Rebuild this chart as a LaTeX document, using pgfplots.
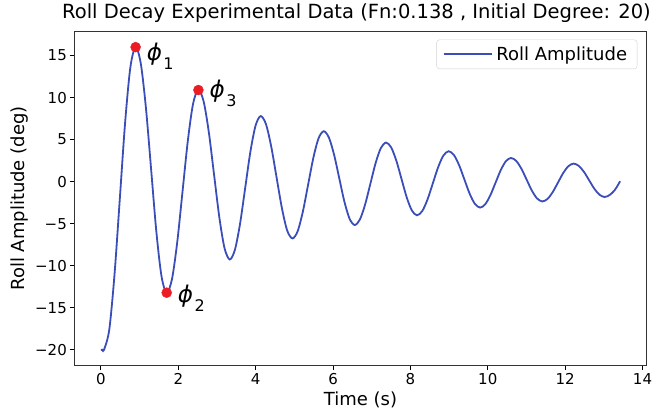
\documentclass[border=0pt]{standalone}
\usepackage{fontspec}
\setmainfont{DejaVu Sans}
\usepackage{pgfplots}
\pgfplotsset{compat=1.18}
\definecolor{rollblue}{RGB}{58,77,184}
\definecolor{mkred}{RGB}{236,28,36}
\newcommand{\philab}[1]{{\itshape ϕ}\kern1.5bp\raisebox{-9bp}{\fontsize{16bp}{18bp}\selectfont #1}}
\begin{document}
\begin{tikzpicture}
\useasboundingbox (-75bp,-49bp) rectangle (590bp,365bp);
\begin{axis}[
  scale only axis, clip=false,
  width=571bp, height=333bp,
  xmin=-0.67, xmax=14.09, ymin=-21.8, ymax=17.8,
  xtick={0,2,4,6,8,10,12,14},
  ytick={-20,-15,-10,-5,0,5,10,15},
  yticklabels={−20,−15,−10,−5,0,5,10,15},
  xticklabels={0,2,4,6,8,10,12,14},
  tick align=outside, tick pos=left,
  major tick length=5bp,
  every tick/.style={black, line width=0.9bp},
  axis line style={black!80, line width=1bp},
  ticklabel style={font=\fontsize{15bp}{18bp}\selectfont, inner sep=0pt},
  xticklabel style={anchor=north, yshift=-3.5bp},
  yticklabel style={anchor=east, xshift=-3bp},
  title={Roll Decay Experimental Data (Fn:0.138 , Initial Degree: 20)},
  title style={font=\fontsize{19.5bp}{23bp}\selectfont, at={(0.5,1)}, anchor=base, yshift=7.5bp, xshift=-4bp, inner sep=0pt},
  xlabel={Time (s)},
  xlabel style={font=\fontsize{18bp}{21bp}\selectfont, at={(0.5,0)}, anchor=base, yshift=-40bp, inner sep=0pt},
  legend style={at={(0.9848,0.9774)}, anchor=north east, draw=black!18, rounded corners=3bp,
    font=\fontsize{18bp}{21bp}\selectfont, inner xsep=6bp, inner ysep=3bp,
    nodes={inner xsep=4bp, inner ysep=4bp}},
  legend cell align=left,
  legend image code/.code={\draw[#1] (0bp,0bp) -- (39bp,0bp); \path (0bp,0bp) -- (48bp,0bp);},
]
\addplot[rollblue, line width=1.8bp, smooth] coordinates {
(0,-20) (0.04,-20) (0.08,-20)
(0.216,-17.59) (0.352,-11.0) (0.489,-2.0) (0.625,7.0) (0.761,13.59)
(0.897,16.0) (1.031,14.04) (1.165,8.7) (1.299,1.4) (1.432,-5.9) (1.566,-11.24)
(1.70,-13.2) (1.837,-11.59) (1.973,-7.18) (2.110,-1.15) (2.247,4.88) (2.383,9.29)
(2.52,10.9) (2.655,9.55) (2.790,5.86) (2.925,0.825) (3.060,-4.21) (3.195,-7.90)
(3.33,-9.25) (3.463,-8.11) (3.597,-4.99) (3.730,-0.725) (3.863,3.54) (3.997,6.66)
(4.13,7.8) (4.267,6.83) (4.403,4.16) (4.540,0.525) (4.677,-3.11) (4.813,-5.78)
(4.95,-6.75) (5.085,-5.90) (5.220,-3.56) (5.355,-0.375) (5.490,2.81) (5.625,5.15)
(5.76,6.0) (5.893,5.25) (6.027,3.21) (6.160,0.425) (6.293,-2.36) (6.427,-4.40)
(6.56,-5.15) (6.695,-4.49) (6.830,-2.70) (6.965,-0.25) (7.100,2.20) (7.235,3.99)
(7.37,4.65) (7.503,4.07) (7.637,2.49) (7.770,0.325) (7.903,-1.84) (8.037,-3.42)
(8.17,-4.0) (8.307,-3.49) (8.443,-2.10) (8.580,-0.19) (8.717,1.72) (8.853,3.11)
(8.99,3.62) (9.125,3.17) (9.260,1.95) (9.395,0.27) (9.530,-1.41) (9.665,-2.63)
(9.80,-3.08) (9.933,-2.69) (10.067,-1.61) (10.200,-0.13) (10.333,1.35) (10.467,2.43)
(10.60,2.82) (10.735,2.47) (10.870,1.53) (11.005,0.235) (11.140,-1.06) (11.275,-2.00)
(11.41,-2.35) (11.545,-2.05) (11.680,-1.23) (11.815,-0.1) (11.950,1.03) (12.085,1.85)
(12.22,2.15) (12.353,1.88) (12.487,1.16) (12.620,0.165) (12.753,-0.83) (12.887,-1.55)
(13.02,-1.82) (13.155,-1.57) (13.29,-0.95) (13.42,0.05)
};
\addlegendentry{Roll Amplitude}
\addplot[only marks, mark=*, mark size=5bp, mkred, mark options={draw=mkred, fill=mkred}, forget plot] coordinates {
(0.897,16.0) (1.70,-13.2) (2.52,10.9)
};
\node[anchor=base west, inner sep=0pt, font=\fontsize{23bp}{26bp}\selectfont] at (axis cs:0.897,16.0) [xshift=11bp, yshift=-13bp] {\philab{1}};
\node[anchor=base west, inner sep=0pt, font=\fontsize{23bp}{26bp}\selectfont] at (axis cs:1.70,-13.2) [xshift=11bp, yshift=-10bp] {\philab{2}};
\node[anchor=base west, inner sep=0pt, font=\fontsize{23bp}{26bp}\selectfont] at (axis cs:2.52,10.9) [xshift=11bp, yshift=-7bp] {\philab{3}};
\node[font=\fontsize{18bp}{21bp}\selectfont, rotate=90, inner sep=0pt] at ([xshift=-55.5bp]rel axis cs:0,0.5) {Roll Amplitude (deg)};
\end{axis}
\end{tikzpicture}
\end{document}
